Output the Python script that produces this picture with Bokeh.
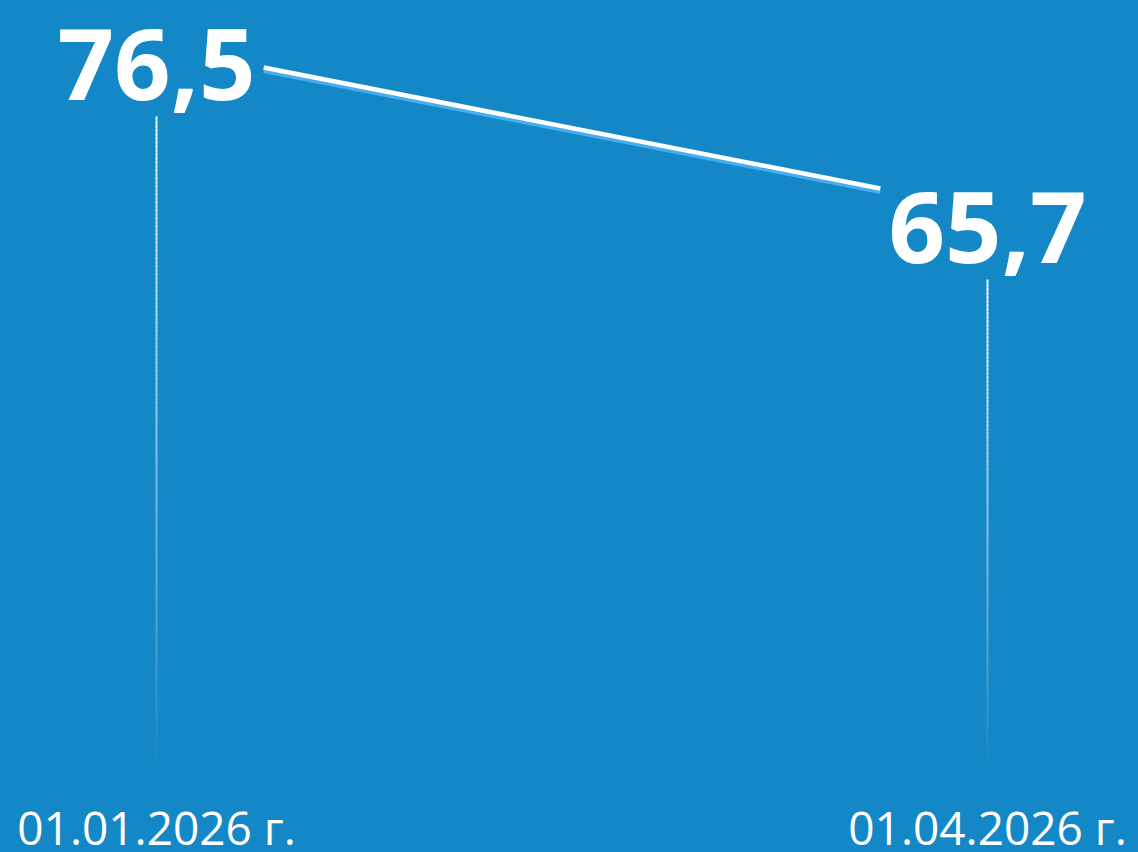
from bokeh.plotting import figure
from bokeh.models import Range1d, ColumnDataSource
from bokeh.core.properties import value
from bokeh.embed import file_html
from bokeh.resources import INLINE

# ---- data ----
dates = ["01.01.2026 г.", "01.04.2026 г."]
values = [76.5, 65.7]
value_labels = ["76,5", "65,7"]

# ---- style / layout ----
W, H = 1138, 852
BG = (20, 136, 198)
BG_HEX = "#%02x%02x%02x" % BG
SHADOW = "#45ADF0"
X0_PX, X1_PX = 156, 987          # pixel positions of the two dates
Y_START, Y_END = 23.1, 79.55      # value range shown on the vertical
GAP = 0.129                       # connector starts/ends away from the points
STEM_TOP_PX = 70                  # stems start this far below each value
STEM_BOTTOM_PX = 760              # stems fade out here
SEG_PX = 4

xs = list(range(len(values)))
span_px = X1_PX - X0_PX
x_start = -X0_PX / span_px
x_end = (W - X0_PX) / span_px
units_per_px = (Y_END - Y_START) / H


def px_to_y(py):
    return Y_END - py * units_per_px


def y_to_px(v):
    return (Y_END - v) / units_per_px


def blend(a):
    r, g, b = (int(round(c + (255 - c) * a)) for c in BG)
    return "#%02x%02x%02x" % (r, g, b)


p = figure(width=W, height=H, output_backend="svg", toolbar_location=None,
           x_range=Range1d(x_start, x_end), y_range=Range1d(Y_START, Y_END),
           min_border=0, background_fill_color=BG_HEX, border_fill_color=BG_HEX)
p.axis.visible = False
p.grid.visible = False
p.outline_line_color = None

# connector line (shadow + white)
xa = xs[0] + GAP * (xs[1] - xs[0])
xb = xs[1] - GAP * (xs[1] - xs[0])
ya = values[0] + GAP * (values[1] - values[0])
yb = values[1] - GAP * (values[1] - values[0])
off = 3 * units_per_px
p.line([xa, xb], [ya - off, yb - off], line_color=SHADOW, line_width=5)
p.line([xa, xb], [ya, yb], line_color="white", line_width=4.5)

# fading stems (opaque blended colours, boundaries on whole pixels)
sx0, sy0, sx1, sy1, sc = [], [], [], [], []
for x, v in zip(xs, values):
    top_px = int(round(y_to_px(v))) + STEM_TOP_PX
    length = STEM_BOTTOM_PX - top_px
    py = top_px
    while py < STEM_BOTTOM_PX:
        nxt = min(py + SEG_PX, STEM_BOTTOM_PX)
        f = (py - top_px) / length
        sx0.append(x); sx1.append(x)
        sy0.append(px_to_y(py)); sy1.append(px_to_y(nxt))
        sc.append(blend(0.95 * (1 - f) ** 0.9))
        py = nxt
p.segment(sx0, sy0, sx1, sy1, line_color=sc, line_width=2, line_cap="butt")

# value labels
src = ColumnDataSource(dict(x=xs, y=values, t=value_labels))
p.text(x="x", y="y", text="t", source=src, text_font=value("Open Sans"),
       text_font_style="bold", text_font_size="99px", text_color="white",
       text_align="center", text_baseline="alphabetic", y_offset=18)

# date labels
dsrc = ColumnDataSource(dict(x=xs, y=[Y_START] * len(xs), t=dates))
p.text(x="x", y="y", text="t", source=dsrc, text_font=value("Open Sans"),
       text_font_size="46px", text_color="white",
       text_align="center", text_baseline="alphabetic", y_offset=-26)

html = file_html(p, INLINE)
html = html.replace("</head>",
                    "<style>html,body{margin:0;padding:0;background:%s;overflow:hidden;}</style></head>" % BG_HEX, 1)
open("out.html", "w").write(html)
